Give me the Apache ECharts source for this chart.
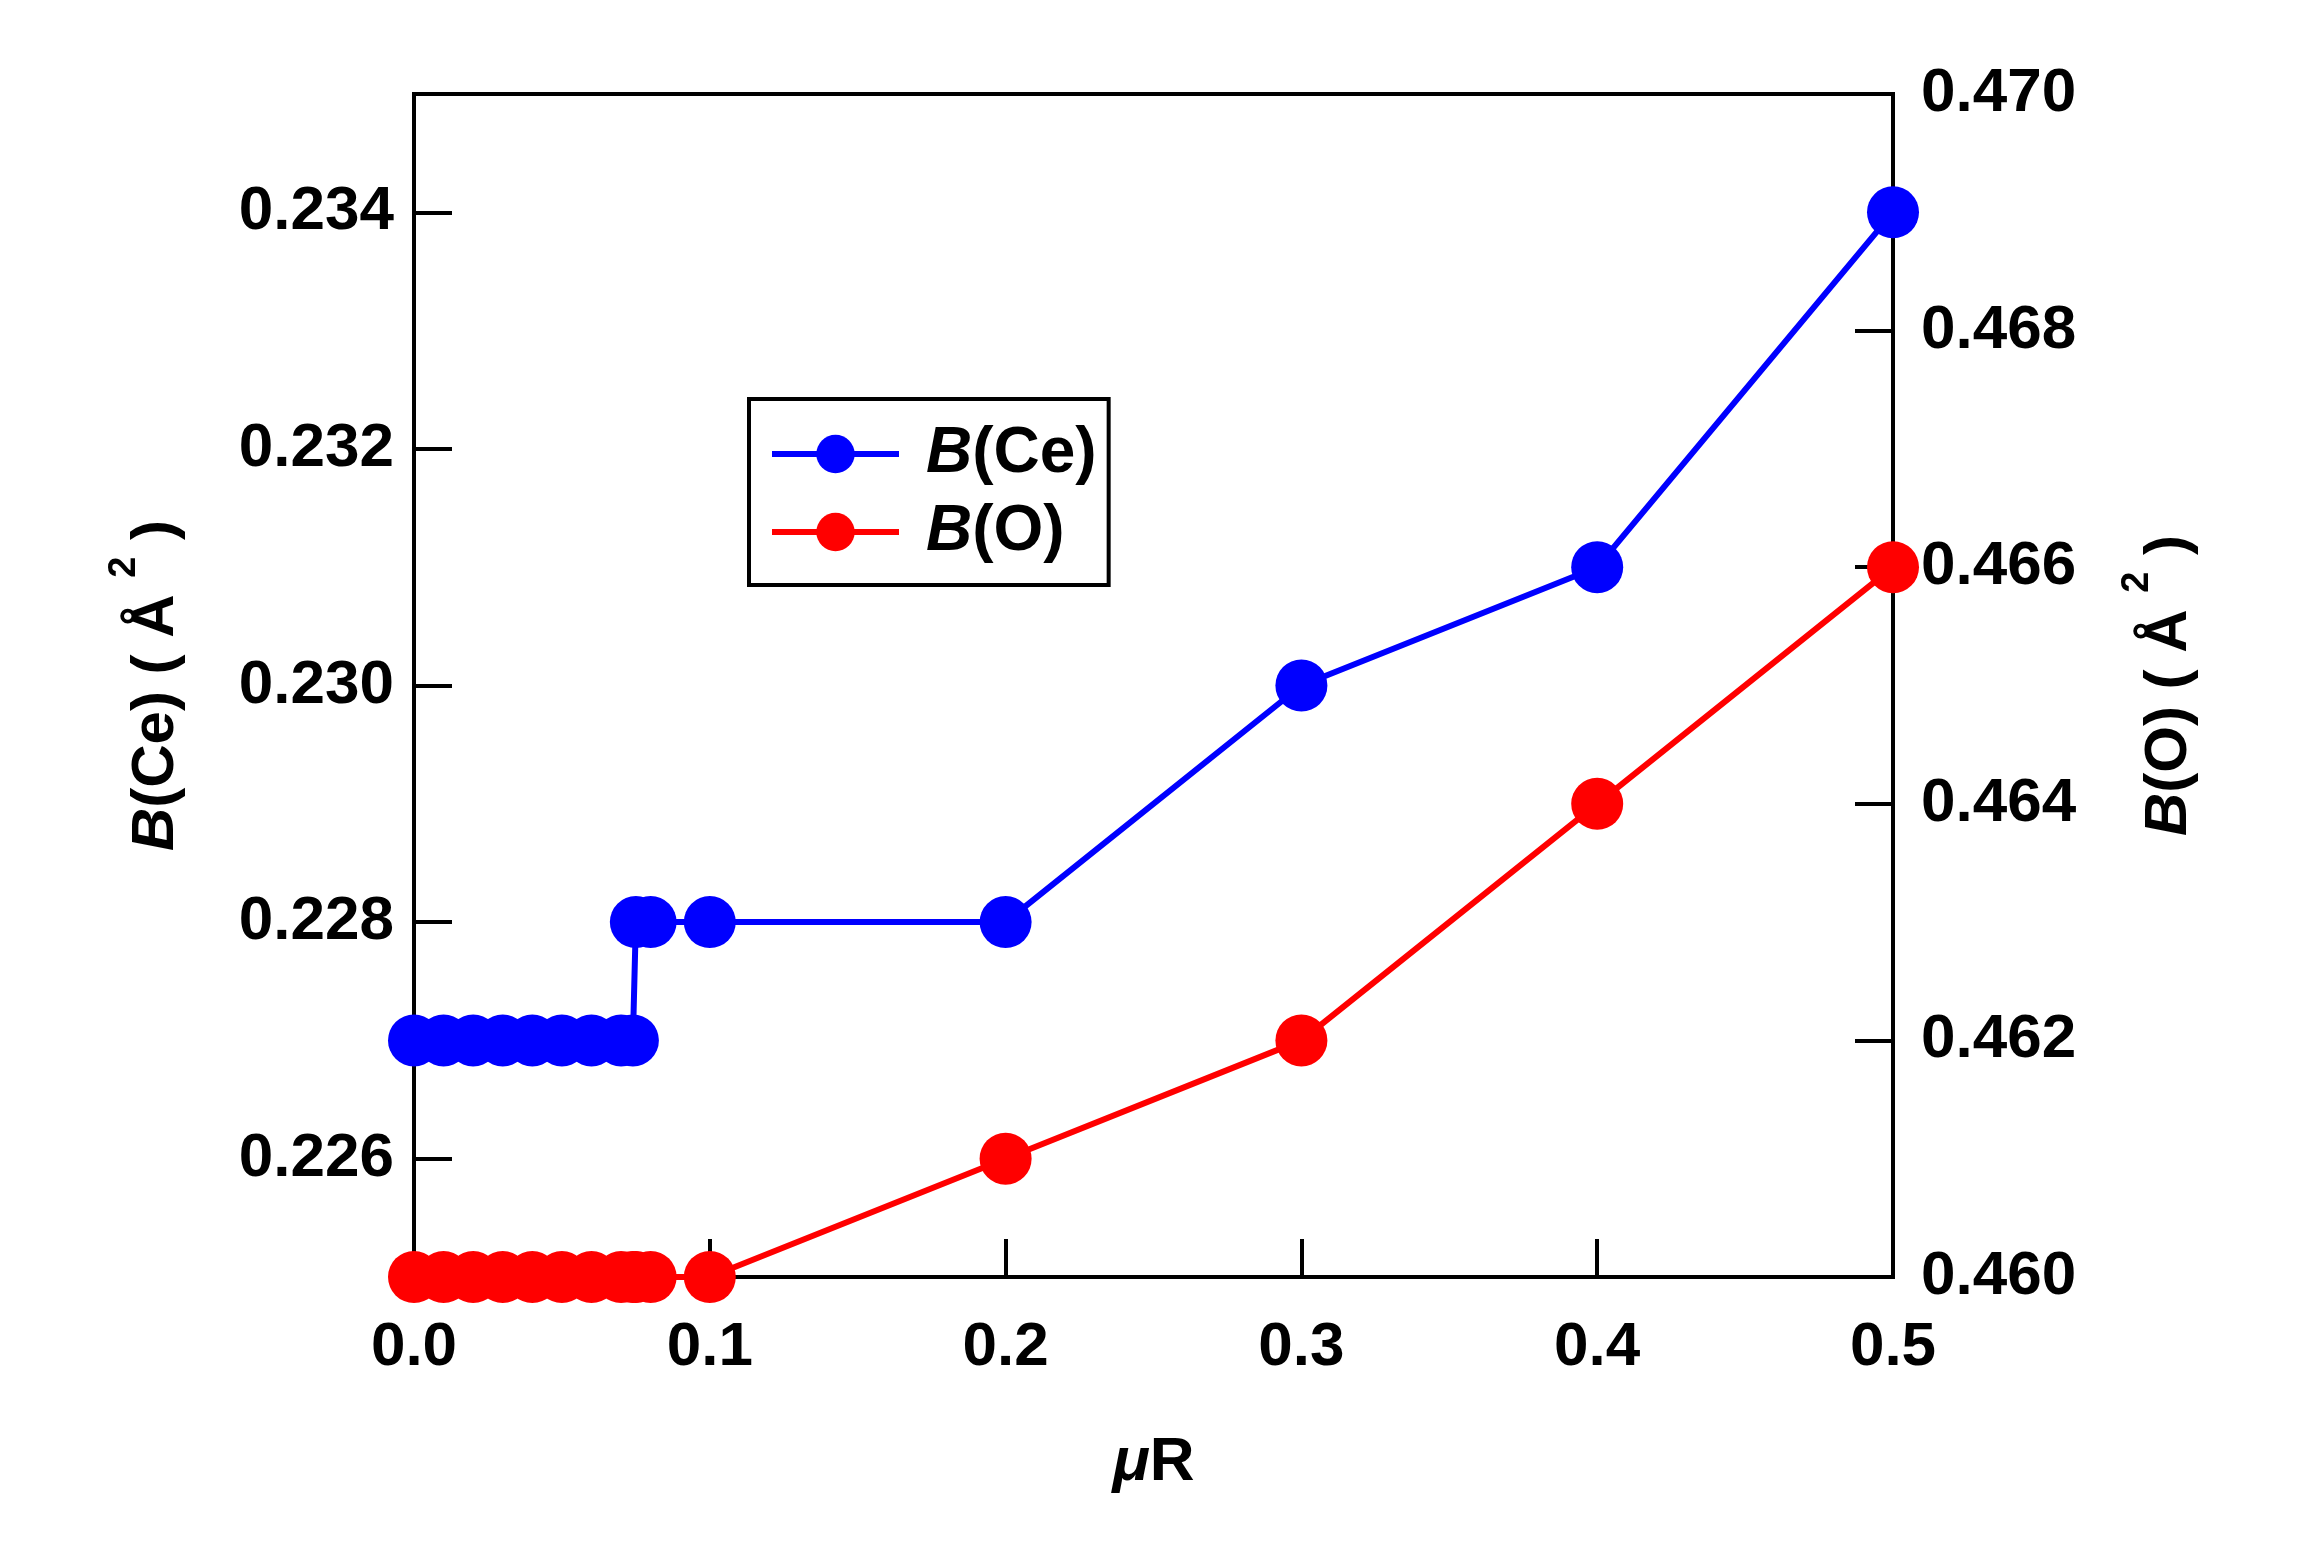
<!DOCTYPE html>
<html>
<head>
<meta charset="utf-8">
<script src="https://cdn.jsdelivr.net/npm/echarts@6/dist/echarts.min.js"></script>
<style>
html,body{margin:0;padding:0;background:#fff;}
#c{width:2308px;height:1552px;}
</style>
</head>
<body>
<div id="c"></div>
<script>
// data
const muR   = [0, 0.01, 0.02, 0.03, 0.04, 0.05, 0.06, 0.07, 0.074, 0.075, 0.08, 0.1, 0.2, 0.3, 0.4, 0.5];
const bCe   = [0.227, 0.227, 0.227, 0.227, 0.227, 0.227, 0.227, 0.227, 0.227, 0.228, 0.228, 0.228, 0.228, 0.230, 0.231, 0.234];
const bO    = [0.460, 0.460, 0.460, 0.460, 0.460, 0.460, 0.460, 0.460, 0.460, 0.460, 0.460, 0.460, 0.461, 0.462, 0.464, 0.466];
const xTicks = [0, 0.1, 0.2, 0.3, 0.4, 0.5];
const leftTicks = [0.226, 0.228, 0.230, 0.232, 0.234];
const rightTicks = [0.460, 0.462, 0.464, 0.466, 0.468, 0.470];

const FONT = '"Liberation Sans", Arial, sans-serif';
const chart = echarts.init(document.getElementById('c'), null, {renderer: 'canvas'});

const tickStyle = {show: true, inside: true, length: 38, lineStyle: {color: '#000', width: 4}};
const lineAx = {show: true, lineStyle: {color: '#000', width: 4}};
const lab = {fontFamily: FONT, fontWeight: 'bold', fontSize: 62, color: '#000'};

const titleRich = {
  i: {fontFamily: FONT, fontWeight: 'bold', fontStyle: 'italic', fontSize: 60, color: '#000', lineHeight: 80, verticalAlign: 'bottom'},
  n: {fontFamily: FONT, fontWeight: 'bold', fontSize: 60, color: '#000', lineHeight: 80, verticalAlign: 'bottom'},
  s: {fontFamily: FONT, fontWeight: 'bold', fontSize: 38, color: '#000', lineHeight: 80, verticalAlign: 'top'}
};

chart.setOption({
  animation: false,
  backgroundColor: '#fff',
  grid: {left: 414, right: 415, top: 94, bottom: 275, show: true, borderColor: '#000', borderWidth: 4, backgroundColor: 'transparent'},
  legend: {
    left: 749, top: 399,
    orient: 'vertical',
    borderColor: '#000', borderWidth: 4, borderRadius: 0,
    padding: [20, 12, 18, 20],
    itemWidth: 127, itemHeight: 48, itemGap: 8,
    lineStyle: {width: 6},
    data: ['B(Ce)', 'B(O)'],
    formatter: function (name) { return name === 'B(Ce)' ? '{i|B}{n|(Ce)}' : '{i|B}{n|(O)}'; },
    textStyle: {
      lineHeight: 70,
      padding: [0, 0, 0, 22],
      rich: {
        i: {fontFamily: FONT, fontWeight: 'bold', fontStyle: 'italic', fontSize: 64, color: '#000'},
        n: {fontFamily: FONT, fontWeight: 'bold', fontSize: 64, color: '#000'}
      }
    }
  },
  xAxis: {
    type: 'value', min: 0, max: 0.5, interval: 0.1,
    axisLine: lineAx, axisTick: tickStyle, splitLine: {show: false},
    axisLabel: Object.assign({margin: 40, formatter: v => v.toFixed(1)}, lab),
    name: '{m|μ}{r|R}', nameLocation: 'middle', nameGap: 155,
    nameTextStyle: {rich: {
      m: {fontFamily: FONT, fontWeight: 'bold', fontStyle: 'italic', fontSize: 62, color: '#000'},
      r: {fontFamily: FONT, fontWeight: 'bold', fontSize: 62, color: '#000'}
    }}
  },
  yAxis: [
    {
      type: 'value', min: 0.225, max: 0.235, position: 'left',
      axisLine: lineAx,
      axisTick: Object.assign({customValues: leftTicks}, tickStyle),
      splitLine: {show: false},
      axisLabel: Object.assign({margin: 20, customValues: leftTicks, formatter: v => v.toFixed(3)}, lab),
      name: '{i|B}{n|(Ce) ( Å }{s|2}{n| )}', nameLocation: 'middle', nameGap: 228, nameRotate: 90,
      nameTextStyle: {rich: titleRich}
    },
    {
      type: 'value', min: 0.46, max: 0.47, position: 'right',
      axisLine: lineAx,
      axisTick: Object.assign({customValues: rightTicks}, tickStyle),
      splitLine: {show: false},
      axisLabel: Object.assign({margin: 28, customValues: rightTicks, formatter: v => v.toFixed(3)}, lab),
      name: '{i|B}{n|(O) ( Å }{s|2}{n| )}', nameLocation: 'middle', nameGap: 226, nameRotate: 90,
      nameTextStyle: {rich: titleRich}
    }
  ],
  series: [
    {
      name: 'B(Ce)', type: 'line', yAxisIndex: 0,
      data: muR.map((x, i) => [x, bCe[i]]),
      symbol: 'circle', symbolSize: 52,
      color: '#0000FF',
      itemStyle: {color: '#0000FF'},
      lineStyle: {color: '#0000FF', width: 6},
      z: 3
    },
    {
      name: 'B(O)', type: 'line', yAxisIndex: 1,
      data: muR.map((x, i) => [x, bO[i]]),
      symbol: 'circle', symbolSize: 52,
      color: '#FF0000',
      itemStyle: {color: '#FF0000'},
      lineStyle: {color: '#FF0000', width: 6},
      z: 3
    }
  ]
});
</script>
</body>
</html>
